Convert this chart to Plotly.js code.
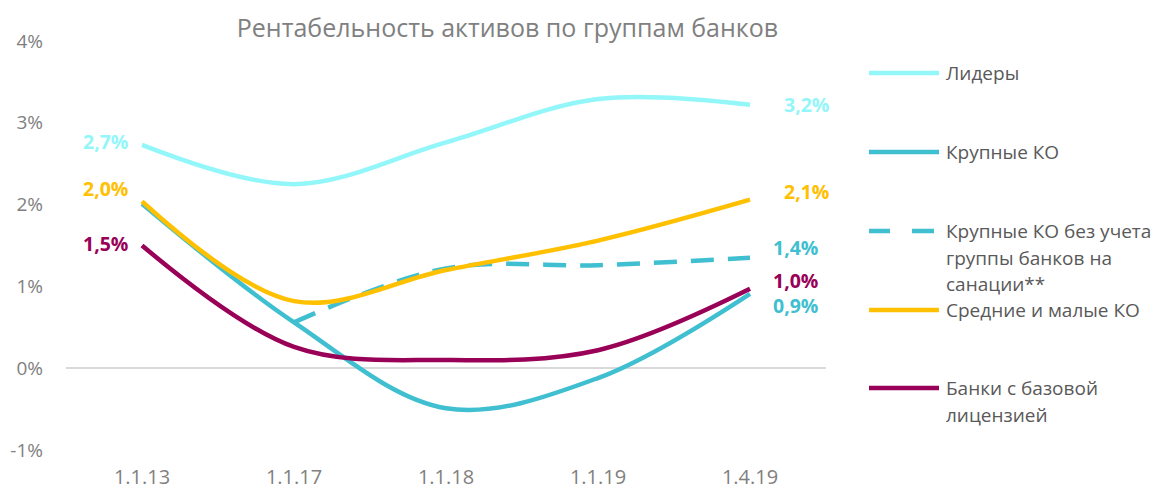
<!DOCTYPE html>
<html>
<head>
<meta charset="utf-8">
<script src="https://cdn.plot.ly/plotly-3.0.1.min.js"></script>
<style>html,body{margin:0;padding:0;background:#fff;}#chart{width:1172px;height:490px;}</style>
</head>
<body>
<div id="chart"></div>
<script>
const categories = ['1.1.13', '1.1.17', '1.1.18', '1.1.19', '1.4.19'];
const seriesNames = ['Лидеры', 'Крупные КО', 'Крупные КО без учета группы банков на санации**', 'Средние и малые КО', 'Банки с базовой лицензией'];
const leaders = [2.73, 2.25, 2.76, 3.29, 3.22];
const large = [2.01, 0.56, -0.49, -0.12, 0.91];
const largeExSanation = [null, 0.56, 1.22, 1.26, 1.35];
const midSmall = [2.04, 0.82, 1.2, 1.56, 2.06];
const basicLicense = [1.5, 0.26, 0.1, 0.22, 0.97];
const labelsStart = ['2,7%', '', '', '2,0%', '1,5%'];
const labelsEnd = ['3,2%', '0,9%', '1,4%', '2,1%', '1,0%'];
const yTickVals = [-1, 0, 1, 2, 3, 4];
const yTickText = ['-1%', '0%', '1%', '2%', '3%', '4%'];
const legendLines = [['Лидеры'], ['Крупные КО'], ['Крупные КО без учета', 'группы банков на', 'санации**'], ['Средние и малые КО'], ['Банки с базовой', 'лицензией']];

const colors = ['#93F6F9', '#3FBFD0', '#3FBFD0', '#FFC000', '#990057'];
const dashes = ['solid', 'solid', '23px,14px', 'solid', 'solid'];
const allSeries = [leaders, large, largeExSanation, midSmall, basicLicense];

const traces = allSeries.map((vals, i) => ({
  x: categories, y: vals, type: 'scatter', mode: 'lines', name: seriesNames[i],
  line: {color: colors[i], width: 4.5, shape: 'spline', smoothing: 1, dash: dashes[i]},
  connectgaps: false, hoverinfo: 'skip', showlegend: false
}));

const annotations = [];
const startShift = [3, 0, 0, 13, 2];
allSeries.forEach((vals, i) => {
  if (labelsStart[i]) {
    annotations.push({x: categories[0], y: vals[0], xref: 'x', yref: 'y', text: '<b>' + labelsStart[i] + '</b>',
      showarrow: false, xanchor: 'right', xshift: -12, yshift: startShift[i],
      font: {family: 'Open Sans', size: 19.5, color: colors[i]}});
  }
});
const endShift = [0, -12, 10, 8, 8];
const endX = [32, 21, 21, 32, 21];
allSeries.forEach((vals, i) => {
  const last = vals.length - 1;
  annotations.push({x: categories[last], y: vals[last], xref: 'x', yref: 'y', text: '<b>' + labelsEnd[i] + '</b>',
    showarrow: false, xanchor: 'left', xshift: endX[i], yshift: endShift[i],
    font: {family: 'Open Sans', size: 19.5, color: colors[i]}});
});

// manual legend
const shapes = [];
const plotL = 66, plotR = 826, plotT = 41, plotB = 450;
const px2x = p => (p - plotL) / (plotR - plotL);
const py2y = p => (plotB - p) / (plotB - plotT);
const legendY = [73, 152, 231, 310, 388];
const lineStep = 26.5;
legendLines.forEach((lines, i) => {
  if (i === 2) {
    shapes.push({type: 'line', xref: 'paper', yref: 'paper', x0: px2x(869), x1: px2x(890), y0: py2y(legendY[i]), y1: py2y(legendY[i]), line: {color: colors[i], width: 4.5}});
    shapes.push({type: 'line', xref: 'paper', yref: 'paper', x0: px2x(912), x1: px2x(934), y0: py2y(legendY[i]), y1: py2y(legendY[i]), line: {color: colors[i], width: 4.5}});
  } else {
    shapes.push({type: 'line', xref: 'paper', yref: 'paper', x0: px2x(869), x1: px2x(939), y0: py2y(legendY[i]), y1: py2y(legendY[i]), line: {color: colors[i], width: 4.5}});
  }
  lines.forEach((t, j) => {
    annotations.push({xref: 'paper', yref: 'paper', x: px2x(944), y: py2y(legendY[i] + j * lineStep), text: t,
      showarrow: false, xanchor: 'left', yanchor: 'middle', font: {family: 'Open Sans', size: 19, color: '#595959'}});
  });
});

const layout = {
  width: 1172, height: 490,
  margin: {l: plotL, r: 1172 - plotR, t: plotT, b: 490 - plotB, pad: 0},
  paper_bgcolor: '#fff', plot_bgcolor: '#fff',
  title: {text: 'Рентабельность активов по группам банков', x: 0.433, xanchor: 'center', y: 0.943, yanchor: 'middle',
    font: {family: 'Open Sans', size: 25, color: '#808080'}},
  xaxis: {type: 'category', range: [-0.5, 4.5], showgrid: false, zeroline: false, showline: false, ticks: '',
    tickfont: {family: 'Open Sans', size: 20, color: '#808080'}, ticklabelstandoff: 13, fixedrange: true},
  yaxis: {range: [-1, 4], tickvals: yTickVals, ticktext: yTickText, showgrid: false, zeroline: true,
    zerolinecolor: '#D9D9D9', zerolinewidth: 1.5, showline: false, ticks: '',
    tickfont: {family: 'Open Sans', size: 19, color: '#808080'}, ticklabelstandoff: 22, fixedrange: true},
  annotations: annotations, shapes: shapes, showlegend: false
};

Plotly.newPlot('chart', traces, layout, {displayModeBar: false, staticPlot: true});
</script>
</body>
</html>
